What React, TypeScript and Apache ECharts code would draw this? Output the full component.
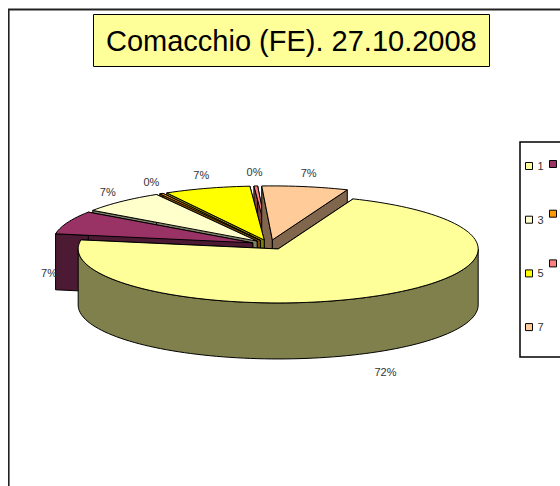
import React, { useEffect, useRef } from 'react';
import * as echarts from 'echarts';

const categories = ['1', '2', '3', '4', '5', '6', '7'];
const values = [72, 7, 7, 0.3, 7, 0.3, 7];
const colors = ['#FFFF99', '#993366', '#FFFFCC', '#FF9900', '#FFFF00', '#FF8080', '#FFCC99'];
const legendColA = ['1', '3', '5', '7'];
const legendColB = ['2', '4', '6'];
const titleText = 'Comacchio (FE). 27.10.2008';

const START = 22;
const RX = 200;
const RY = 54;
const DEPTH = 56;
const EXPLODE = 0.09;
const CX = 261.4;
const CY = 236.7;

function shade(hex: string, f: number): string {
  const n = parseInt(hex.slice(1), 16);
  const r = Math.round(((n >> 16) & 255) * f);
  const g = Math.round(((n >> 8) & 255) * f);
  const b = Math.round((n & 255) * f);
  return 'rgb(' + r + ',' + g + ',' + b + ')';
}

const rad = (d: number) => (d * Math.PI) / 180;

export default function App() {
  const ref = useRef<HTMLDivElement>(null);
  useEffect(() => {
    if (!ref.current) return;
    const chart = echarts.init(ref.current, null, { renderer: 'svg' });
    const total = values.reduce((a, b) => a + b, 0);
    const starts: number[] = [];
    let acc = START;
    values.forEach((v) => {
      starts.push(acc);
      acc += (v / total) * 360;
    });
    const mids = values.map((v, i) => starts[i] + (v / total) * 180);
    const order = mids
      .map((m, i) => ({ i, f: -Math.cos(rad(m)) }))
      .sort((a, b) => a.f - b.f);
    const rank: number[] = [];
    order.forEach((o, r) => (rank[o.i] = r));

    const series = categories.map((name, i) => ({
      type: 'custom',
      name,
      coordinateSystem: 'none',
      data: [[values[i]]],
      itemStyle: { color: colors[i] },
      renderItem: (params: any, api: any) => {
        const v = api.value(0);
        const a0 = starts[i];
        const a1 = a0 + (v / total) * 360;
        const m = (a0 + a1) / 2;
        const ox = EXPLODE * RX * Math.sin(rad(m));
        const oy = -EXPLODE * RY * Math.cos(rad(m));
        const cx = CX + ox;
        const cy = CY + oy;
        const P = (t: number, dz = 0) => [cx + RX * Math.sin(rad(t)), cy - RY * Math.cos(rad(t)) + dz];
        const arc = (s: number, e: number, dz: number) => {
          const pts: number[][] = [];
          const n = Math.max(1, Math.ceil(Math.abs(e - s) / 2));
          for (let k = 0; k <= n; k++) pts.push(P(s + ((e - s) * k) / n, dz));
          return pts;
        };
        const dark = shade(colors[i], 0.5);
        const base = rank[i] * 10;
        const st = (fill: string) => ({ fill, stroke: '#000', lineWidth: 1, lineJoin: 'round' });
        const children: any[] = [];
        [a0, a1].forEach((a) => {
          children.push({
            type: 'polygon',
            z2: base + 1,
            shape: { points: [[cx, cy], P(a), P(a, DEPTH), [cx, cy + DEPTH]] },
            style: st(dark),
          });
        });
        [-360, 0, 360].forEach((k) => {
          const s = Math.max(a0, 90 + k);
          const e = Math.min(a1, 270 + k);
          if (e > s) {
            children.push({
              type: 'polygon',
              z2: base + 2,
              shape: { points: arc(s, e, 0).concat(arc(e, s, DEPTH)) },
              style: st(dark),
            });
          }
        });
        children.push({
          type: 'polygon',
          z2: base + 3,
          shape: { points: [[cx, cy]].concat(arc(a0, a1, 0)) },
          style: st(colors[i]),
        });
        const fc = -Math.cos(rad(m));
        const ky = 1.25 + 0.2 * Math.max(0, fc);
        const lx = cx + 1.1 * RX * Math.sin(rad(m));
        const ly = cy + ky * RY * fc + (fc > -0.6 ? DEPTH : 0);
        children.push({
          type: 'text',
          z2: 1000,
          x: lx,
          y: ly,
          style: {
            text: Math.round((v / total) * 100) + '%',
            fill: '#333',
            font: '11px Arial, "Liberation Sans", sans-serif',
            align: 'center',
            verticalAlign: 'middle',
          },
        });
        return { type: 'group', children };
      },
    }));

    const legendBase = {
      orient: 'vertical',
      top: 152,
      itemGap: 41.7,
      itemWidth: 7,
      itemHeight: 7,
      icon: 'rect',
      padding: 0,
      selectedMode: false,
      itemStyle: { borderColor: '#000', borderWidth: 1 },
      textStyle: { fontSize: 11, fontFamily: 'Arial, "Liberation Sans", sans-serif', color: '#333', lineHeight: 12 },
    };

    chart.setOption({
      animation: false,
      backgroundColor: '#fff',
      title: {
        text: titleText,
        left: 85,
        top: 6,
        padding: [9, 13],
        backgroundColor: '#FFFF99',
        borderColor: '#000',
        borderWidth: 1,
        textStyle: {
          fontFamily: 'Arial, "Liberation Sans", sans-serif',
          fontSize: 29,
          fontWeight: 'normal',
          color: '#000',
          lineHeight: 35,
        },
      },
      legend: [
        { ...legendBase, left: 517, data: legendColA },
        { ...legendBase, left: 541, data: legendColB, formatter: () => '' },
      ],
      graphic: [
        {
          type: 'rect',
          z: 0,
          shape: { x: 0.6, y: 1.6, width: 1000, height: 1000 },
          style: { fill: 'none', stroke: '#222', lineWidth: 2 },
        },
        {
          type: 'rect',
          z: 0,
          shape: { x: 512, y: 134, width: 200, height: 215 },
          style: { fill: '#fff', stroke: '#000', lineWidth: 1.5 },
        },
      ],
      series,
    });
    return () => chart.dispose();
  }, []);
  return <div ref={ref} style={{ position: 'absolute', left: 8, top: 8, width: 552, height: 478 }} />;
}
